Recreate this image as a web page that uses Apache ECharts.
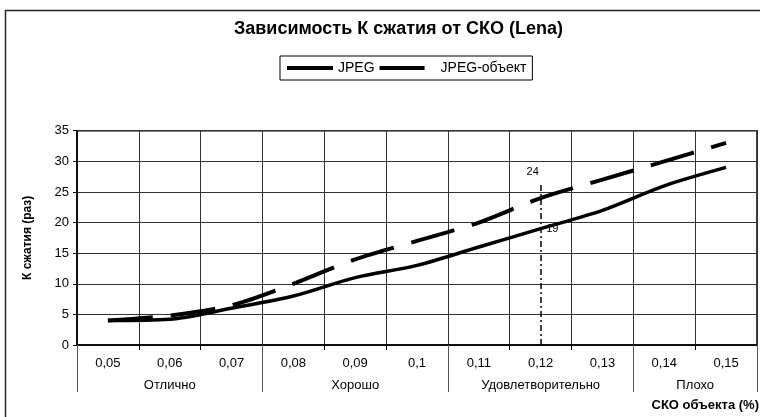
<!DOCTYPE html>
<html>
<head>
<meta charset="utf-8">
<script src="https://cdn.jsdelivr.net/npm/echarts@6/dist/echarts.min.js"></script>
<style>
html,body{margin:0;padding:0;background:#fff;}
#chart{width:760px;height:417px;}
</style>
</head>
<body>
<div id="chart"></div>
<script>
const categories = ['0,05','0,06','0,07','0,08','0,09','0,1','0,11','0,12','0,13','0,14','0,15'];
const jpeg = [4, 4.2, 6, 8, 11, 13, 16, 19, 22, 26, 29];
const jpegObj = [4, 4.8, 6.5, 10, 14, 17, 20, 24, 27, 30, 33];
const groupLabels = ['Отлично', 'Хорошо', 'Удовлетворительно', 'Плохо'];
// half-category slots: label index -> group label
const groupLabelSlots = [3, 9, 15, 20];
const groupBoundarySlots = [0, 6, 12, 18, 22];
const markerCategory = '0,12';
const markerTop = 26.5;

const FONT = '"Liberation Sans", Arial, sans-serif';
const halfSlots = [];
for (let i = 0; i <= 22; i++) halfSlots.push(String(i));

const chart = echarts.init(document.getElementById('chart'), null, {renderer: 'canvas'});
chart.setOption({
  animation: false,
  backgroundColor: '#fff',
  title: {
    text: 'Зависимость К сжатия от СКО (Lena)',
    left: 234,
    top: 20,
    padding: 0,
    textStyle: {fontFamily: FONT, fontSize: 18, fontWeight: 'bold', color: '#000'}
  },
  legend: {
    left: 280,
    top: 56,
    padding: [5, 6, 5, 5],
    itemWidth: 46,
    itemHeight: 14,
    itemGap: 3,
    borderColor: '#000',
    borderWidth: 1,
    itemStyle: {opacity: 0},
    lineStyle: {width: 4},
    textStyle: {fontFamily: FONT, fontSize: 14, color: '#000'},
    data: ['JPEG', {name: 'JPEG-объект', textStyle: {padding: [0, 0, 0, 10]}}]
  },
  grid: {
    left: 77, right: 3, top: 130.7, bottom: 72,
    show: true, borderColor: '#000', borderWidth: 1.5, backgroundColor: '#fff'
  },
  xAxis: [
    {
      type: 'category',
      data: categories,
      boundaryGap: true,
      axisLine: {lineStyle: {color: '#000', width: 1.5}},
      axisTick: {show: true, interval: 0, length: 5, lineStyle: {color: '#000'}},
      axisLabel: {interval: 0, margin: 12, fontFamily: FONT, fontSize: 13, color: '#000'},
      splitLine: {show: true, interval: 0, lineStyle: {color: '#333', width: 1}}
    },
    {
      type: 'category',
      data: halfSlots,
      boundaryGap: false,
      position: 'bottom',
      axisLine: {show: false},
      axisTick: {
        show: true, length: 47,
        interval: (idx) => groupBoundarySlots.indexOf(idx) >= 0,
        lineStyle: {color: '#555', width: 1}
      },
      axisLabel: {
        margin: 34,
        interval: (idx) => groupLabelSlots.indexOf(idx) >= 0,
        formatter: (v, idx) => {
          const k = groupLabelSlots.indexOf(Number(v));
          return k >= 0 ? groupLabels[k] : '';
        },
        fontFamily: FONT, fontSize: 13, color: '#000'
      },
      splitLine: {show: false}
    }
  ],
  yAxis: {
    type: 'value',
    min: 0, max: 35, interval: 5,
    name: 'К сжатия (раз)',
    nameLocation: 'middle',
    nameGap: 43,
    nameTextStyle: {fontFamily: FONT, fontSize: 12, fontWeight: 'bold', color: '#000'},
    axisLine: {show: true, lineStyle: {color: '#000', width: 1.5}},
    axisTick: {show: true, length: 4, lineStyle: {color: '#000'}},
    axisLabel: {margin: 8, fontFamily: FONT, fontSize: 13, color: '#000'},
    splitLine: {show: true, lineStyle: {color: '#333', width: 1}}
  },
  series: [
    {
      name: 'JPEG',
      type: 'line',
      data: jpeg,
      smooth: 0.3,
      symbol: 'none',
      lineStyle: {color: '#000', width: 3.5, type: 'solid'},
      itemStyle: {color: '#000'},
      markPoint: {
        symbol: 'circle', symbolSize: 1,
        itemStyle: {color: 'rgba(0,0,0,0)'},
        data: [{coord: [markerCategory, jpeg[7]], value: jpeg[7],
          label: {show: true, position: 'right', distance: 5, formatter: String(jpeg[7]),
            fontFamily: FONT, fontSize: 11, color: '#000'}}]
      },
      markLine: {
        silent: true,
        symbol: ['none', 'none'],
        label: {show: false},
        lineStyle: {color: '#000', width: 1.5, type: [6, 3, 2, 3]},
        data: [[{coord: [markerCategory, 0]}, {coord: [markerCategory, markerTop]}]]
      }
    },
    {
      name: 'JPEG-объект',
      type: 'line',
      data: jpegObj,
      smooth: 0.3,
      symbol: 'none',
      lineStyle: {color: '#000', width: 4, type: [45, 18], cap: 'butt'},
      itemStyle: {color: '#000'},
      markPoint: {
        symbol: 'circle', symbolSize: 1,
        itemStyle: {color: 'rgba(0,0,0,0)'},
        data: [{coord: [markerCategory, jpegObj[7]], value: jpegObj[7],
          label: {show: true, position: 'top', distance: 20, offset: [-8, 0], formatter: String(jpegObj[7]),
            fontFamily: FONT, fontSize: 11, color: '#000'}}]
      }
    }
  ],
  graphic: [
    {
      type: 'rect', silent: true, z: -1,
      shape: {x: 5.5, y: 10.5, width: 800, height: 500},
      style: {fill: 'none', stroke: '#222', lineWidth: 1.5}
    },
    {
      type: 'text', silent: true,
      right: 1, top: 399,
      style: {text: 'СКО объекта (%)', font: 'bold 13px ' + FONT, fill: '#000'}
    }
  ]
});
</script>
</body>
</html>
